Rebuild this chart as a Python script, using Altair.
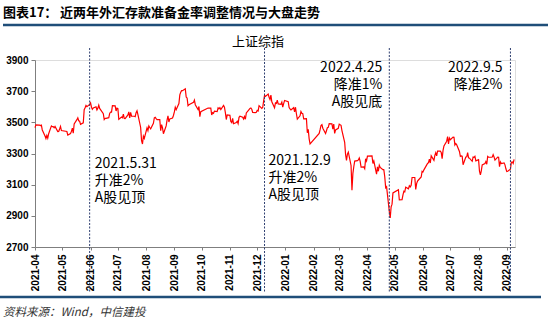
import altair as alt
import pandas as pd

# Shanghai Composite (上证综指) closes
dates = [
 "2021-04-01","2021-04-02","2021-04-06","2021-04-07","2021-04-08","2021-04-09","2021-04-12","2021-04-13","2021-04-14","2021-04-15",
 "2021-04-16","2021-04-19","2021-04-20","2021-04-21","2021-04-22","2021-04-23","2021-04-26","2021-04-27","2021-04-28","2021-04-29","2021-04-30",
 "2021-05-06","2021-05-07","2021-05-10","2021-05-11","2021-05-12","2021-05-13","2021-05-14","2021-05-17","2021-05-18","2021-05-19",
 "2021-05-20","2021-05-21","2021-05-24","2021-05-25","2021-05-26","2021-05-27","2021-05-28","2021-05-31",
 "2021-06-01","2021-06-02","2021-06-03","2021-06-04","2021-06-07","2021-06-08","2021-06-09","2021-06-10","2021-06-11","2021-06-15",
 "2021-06-16","2021-06-17","2021-06-18","2021-06-21","2021-06-22","2021-06-23","2021-06-24","2021-06-25","2021-06-28","2021-06-29","2021-06-30",
 "2021-07-01","2021-07-02","2021-07-05","2021-07-06","2021-07-07","2021-07-08","2021-07-09","2021-07-12","2021-07-13","2021-07-14",
 "2021-07-15","2021-07-16","2021-07-19","2021-07-20","2021-07-21","2021-07-22","2021-07-23","2021-07-26","2021-07-27","2021-07-28","2021-07-29","2021-07-30",
 "2021-08-02","2021-08-03","2021-08-04","2021-08-05","2021-08-06","2021-08-09","2021-08-10","2021-08-11","2021-08-12","2021-08-13",
 "2021-08-16","2021-08-17","2021-08-18","2021-08-19","2021-08-20","2021-08-23","2021-08-24","2021-08-25","2021-08-26","2021-08-27","2021-08-30","2021-08-31",
 "2021-09-01","2021-09-02","2021-09-03","2021-09-06","2021-09-07","2021-09-08","2021-09-09","2021-09-10","2021-09-13","2021-09-14",
 "2021-09-15","2021-09-16","2021-09-17","2021-09-22","2021-09-23","2021-09-24","2021-09-27","2021-09-28","2021-09-29","2021-09-30",
 "2021-10-08","2021-10-11","2021-10-12","2021-10-13","2021-10-14","2021-10-15","2021-10-18","2021-10-19","2021-10-20","2021-10-21",
 "2021-10-22","2021-10-25","2021-10-26","2021-10-27","2021-10-28","2021-10-29",
 "2021-11-01","2021-11-02","2021-11-03","2021-11-04","2021-11-05","2021-11-08","2021-11-09","2021-11-10","2021-11-11","2021-11-12",
 "2021-11-15","2021-11-16","2021-11-17","2021-11-18","2021-11-19","2021-11-22","2021-11-23","2021-11-24","2021-11-25","2021-11-26","2021-11-29","2021-11-30",
 "2021-12-01","2021-12-02","2021-12-03","2021-12-06","2021-12-07","2021-12-08","2021-12-09","2021-12-10","2021-12-13","2021-12-14",
 "2021-12-15","2021-12-16","2021-12-17","2021-12-20","2021-12-21","2021-12-22","2021-12-23","2021-12-24","2021-12-27","2021-12-28",
 "2021-12-29","2021-12-30","2021-12-31",
 "2022-01-04","2022-01-05","2022-01-06","2022-01-07","2022-01-10","2022-01-11","2022-01-12","2022-01-13","2022-01-14","2022-01-17",
 "2022-01-18","2022-01-19","2022-01-20","2022-01-21","2022-01-24","2022-01-25","2022-01-26","2022-01-27","2022-01-28",
 "2022-02-07","2022-02-08","2022-02-09","2022-02-10","2022-02-11","2022-02-14","2022-02-15","2022-02-16","2022-02-17","2022-02-18",
 "2022-02-21","2022-02-22","2022-02-23","2022-02-24","2022-02-25","2022-02-28",
 "2022-03-01","2022-03-02","2022-03-03","2022-03-04","2022-03-07","2022-03-08","2022-03-09","2022-03-10","2022-03-11","2022-03-14",
 "2022-03-15","2022-03-16","2022-03-17","2022-03-18","2022-03-21","2022-03-22","2022-03-23","2022-03-24","2022-03-25","2022-03-28",
 "2022-03-29","2022-03-30","2022-03-31",
 "2022-04-01","2022-04-06","2022-04-07","2022-04-08","2022-04-11","2022-04-12","2022-04-13","2022-04-14","2022-04-15","2022-04-18",
 "2022-04-19","2022-04-20","2022-04-21","2022-04-22","2022-04-25","2022-04-26","2022-04-27","2022-04-28","2022-04-29",
 "2022-05-05","2022-05-06","2022-05-09","2022-05-10","2022-05-11","2022-05-12","2022-05-13","2022-05-16","2022-05-17","2022-05-18",
 "2022-05-19","2022-05-20","2022-05-23","2022-05-24","2022-05-25","2022-05-26","2022-05-27","2022-05-30","2022-05-31",
 "2022-06-01","2022-06-02","2022-06-06","2022-06-07","2022-06-08","2022-06-09","2022-06-10","2022-06-13","2022-06-14","2022-06-15",
 "2022-06-16","2022-06-17","2022-06-20","2022-06-21","2022-06-22","2022-06-23","2022-06-24","2022-06-27","2022-06-28","2022-06-29","2022-06-30",
 "2022-07-01","2022-07-04","2022-07-05","2022-07-06","2022-07-07","2022-07-08","2022-07-11","2022-07-12","2022-07-13","2022-07-14",
 "2022-07-15","2022-07-18","2022-07-19","2022-07-20","2022-07-21","2022-07-22","2022-07-25","2022-07-26","2022-07-27","2022-07-28","2022-07-29",
 "2022-08-01","2022-08-02","2022-08-03","2022-08-04","2022-08-05","2022-08-08","2022-08-09","2022-08-10","2022-08-11","2022-08-12",
 "2022-08-15","2022-08-16","2022-08-17","2022-08-18","2022-08-19","2022-08-22","2022-08-23","2022-08-24","2022-08-25","2022-08-26",
 "2022-08-29","2022-08-30","2022-08-31",
 "2022-09-01","2022-09-02","2022-09-05","2022-09-06","2022-09-07","2022-09-08","2022-09-09",
]
values = [
 3466,3484,3482,3479,3482,3451,3412,3396,3416,3398,
 3427,3477,3472,3472,3465,3474,3441,3442,3457,3474,3447,
 3441,3418,3428,3442,3463,3430,3490,3517,3529,3510,
 3507,3487,3497,3581,3593,3608,3601,3615,
 3625,3597,3584,3592,3600,3580,3591,3610,3589,3556,
 3518,3525,3525,3530,3557,3566,3566,3607,3606,3573,3591,
 3588,3519,3534,3530,3553,3525,3524,3548,3567,3528,
 3564,3539,3539,3536,3562,3574,3550,3467,3382,3361,3411,3397,
 3465,3447,3477,3467,3458,3494,3529,3532,3524,3517,
 3517,3447,3485,3465,3427,3477,3514,3541,3502,3522,3528,3544,
 3567,3597,3581,3621,3676,3693,3703,3703,3715,3662,
 3656,3607,3613,3628,3643,3613,3582,3602,3536,3568,
 3592,3591,3547,3562,3558,3572,3569,3593,3587,3594,
 3582,3609,3597,3562,3518,3547,
 3545,3505,3498,3526,3491,3499,3507,3492,3532,3539,
 3533,3521,3537,3520,3560,3582,3589,3592,3584,3564,3562,3564,
 3577,3573,3607,3589,3595,3637,3673,3666,3681,3661,
 3647,3675,3632,3593,3625,3622,3643,3618,3616,3630,
 3597,3620,3640,
 3632,3595,3586,3580,3594,3567,3597,3555,3521,3542,
 3569,3558,3555,3523,3524,3433,3455,3394,3361,
 3429,3453,3480,3485,3462,3428,3446,3465,3468,3491,
 3490,3457,3489,3429,3451,3462,
 3488,3484,3481,3447,3372,3293,3256,3296,3309,3223,
 3064,3171,3215,3251,3254,3259,3271,3250,3212,3214,
 3203,3266,3252,
 3283,3284,3236,3252,3167,3214,3186,3225,3211,3196,
 3195,3151,3080,3087,2929,2886,2958,2975,3047,
 3068,3002,3004,3035,3058,3054,3084,3073,3093,3086,
 3096,3146,3146,3070,3107,3123,3130,3149,3186,
 3182,3195,3236,3241,3263,3239,3285,3256,3288,3305,
 3285,3316,3315,3307,3267,3320,3349,3379,3409,3361,3399,
 3388,3405,3404,3355,3364,3356,3313,3281,3284,3282,
 3228,3278,3279,3305,3272,3270,3250,3277,3275,3282,3253,
 3260,3186,3163,3189,3227,3236,3248,3231,3281,3276,
 3276,3277,3293,3278,3258,3277,3276,3215,3246,3236,
 3240,3227,3202,
 3184,3186,3199,3244,3246,3236,3262,
]

event_dates = ["2021-05-31", "2021-12-09", "2022-04-25", "2022-09-05"]
event_labels = [
    ["2021.5.31", "升准2%", "A股见顶"],
    ["2021.12.9", "升准2%", "A股见顶"],
    ["2022.4.25", "降准1%", "A股见底"],
    ["2022.9.5", "降准2%"],
]
y_ticks = [2700, 2900, 3100, 3300, 3500, 3700, 3900]

title_prefix = "图表17："
title_text = "近两年外汇存款准备金率调整情况与大盘走势"
series_name = "上证综指"
source_text = "资料来源：Wind，中信建投"

df = pd.DataFrame({"date": pd.to_datetime(dates), "value": values})
ev = pd.DataFrame({"date": pd.to_datetime(event_dates)})

FONT = "Liberation Sans"
CJK = "Noto Sans CJK SC"

xscale = alt.Scale(domain=[alt.DateTime(year=2021, month=4, date=1),
                           alt.DateTime(year=2022, month=9, date=10)])
yscale = alt.Scale(domain=[2700, 3900], nice=False, zero=False)

line = alt.Chart(df).mark_line(color="#FF0000", strokeWidth=1.2).encode(
    x=alt.X("date:T", scale=xscale, title=None,
            axis=alt.Axis(format="%Y-%m", labelAngle=-90, tickCount={"interval": "month", "step": 1},
                          labelOverlap=False, labelFlush=False, labelFont=FONT, labelFontSize=10,
                          labelFontWeight="bold", labelColor="#000", domainColor="#7f7f7f",
                          tickColor="#7f7f7f", tickSize=3, labelPadding=4, grid=False)),
    y=alt.Y("value:Q", scale=yscale, title=None,
            axis=alt.Axis(values=y_ticks, format="d", labelFont=FONT, labelFontSize=10,
                          labelFontWeight="bold", labelColor="#000", domainColor="#7f7f7f",
                          tickColor="#7f7f7f", tickSize=4, labelPadding=3, grid=False)),
)

rules = alt.Chart(ev).mark_rule(color="#2F3F70", strokeWidth=1, strokeDash=[2, 1.5]).encode(
    x=alt.X("date:T", scale=xscale),
    y=alt.value(-12), y2=alt.value(233),
)

def ann(i, align, dx, ypix):
    return alt.Chart(ev.iloc[[i]]).mark_text(
        text=event_labels[i], align=align, dx=dx, font=CJK, fontSize=14,
        lineHeight=17, color="#000", baseline="alphabetic",
    ).encode(x=alt.X("date:T", scale=xscale), y=alt.value(ypix))

anns = [ann(0, "left", 5, 108), ann(1, "left", 4, 105), ann(2, "right", -7, 12), ann(3, "right", -8, 12)]

base = alt.Chart(pd.DataFrame({"k": [0]}))
t1 = base.mark_text(text=title_prefix, align="left", baseline="middle", font=CJK, fontSize=13,
                    fontWeight="bold", color="#000").encode(x=alt.value(-32), y=alt.value(-47))
t2 = base.mark_text(text=title_text, align="left", baseline="middle", font=CJK, fontSize=13,
                    fontWeight="bold", color="#000").encode(x=alt.value(25), y=alt.value(-47))
sep1 = base.mark_rule(color="#1F4E79", strokeWidth=2.5).encode(
    x=alt.value(-32), x2=alt.value(513), y=alt.value(-35))
sep2 = base.mark_rule(color="#1F4E79", strokeWidth=2.5).encode(
    x=alt.value(-35), x2=alt.value(506), y=alt.value(237))
stitle = base.mark_text(text=series_name, align="center", baseline="middle", font=CJK, fontSize=13,
                        color="#000").encode(x=alt.value(223), y=alt.value(-18))
src = base.mark_text(text=source_text, align="left", baseline="middle", font=CJK, fontSize=11.5,
                     fontStyle="italic", color="#333").encode(x=alt.value(-32), y=alt.value(253))

chart = alt.layer(line, rules, *anns, t1, t2, sep1, sep2, stitle, src).properties(
    width=480, height=187,
    autosize=alt.AutoSizeParams(type="none"),
    padding={"left": 35, "top": 60, "right": 35, "bottom": 74},
).configure_view(stroke=None).configure(background="white")

chart.save("out.html", embed_options={"renderer": "svg", "actions": False})
